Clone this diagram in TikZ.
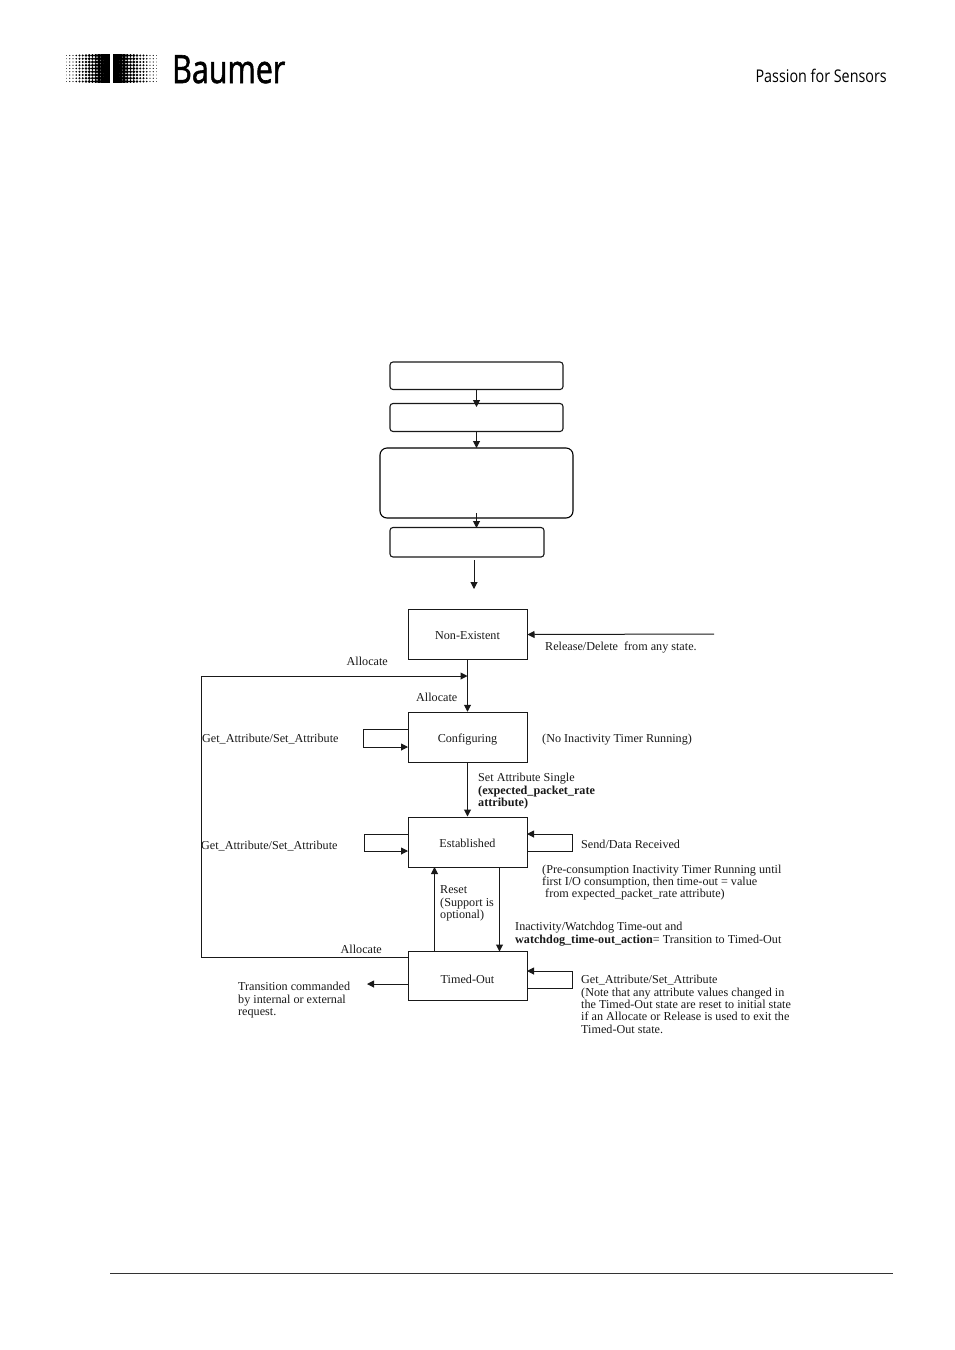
\documentclass[tikz,border=0pt]{standalone}
\usepackage{fontspec}
\setmainfont{Liberation Serif}
\newfontfamily\logofont{Open Sans}
\newfontfamily\logobold[FakeBold=1.6]{Open Sans}
\usetikzlibrary{arrows.meta}
\tikzset{
 x=1pt,y=-1pt,
 startbox/.style={draw=black!90,line width=1.1pt,rounded corners=3pt},
 bigbox/.style={draw=black,line width=1.1pt,rounded corners=7pt},
 statebox/.style={draw=black!90,line width=1pt,minimum width=119pt,inner sep=0pt,font=\fontsize{12.15}{12.5}\selectfont,text=black!90},
 flow/.style={draw=black!90,line width=1pt,-{Triangle[length=7pt,width=7pt]}},
 lab/.style={anchor=north west,inner sep=0pt,align=left,font=\fontsize{12.15}{12.4}\selectfont,text=black!90},
}
\newcommand{\stt}[2][-5pt]{\raisebox{#1}[0pt][0pt]{#2}}
\begin{document}
\begin{tikzpicture}
\useasboundingbox (0,0) rectangle (954,1350);
\fill[white] (0,0) rectangle (954,1350);
% logo halftone
\fill[black] (105,54) rectangle (110,83);
\fill[black] (113,54) rectangle (118,83);
\foreach \ix in {0,...,13}{
 \foreach \iy in {0,...,8}{
  \pgfmathsetmacro{\rr}{0.4+0.16*\ix}
  \fill[black] ({66.5+3.25*\ix},{55.5+3.25*\iy}) circle (\rr pt);
  \fill[black] ({156.5-3.25*\ix},{55.5+3.25*\iy}) circle (\rr pt);
 }
}
\fill[white] (110,50) rectangle (113,88);
\fill[white] (85,50) rectangle (140,54);
\fill[white] (85,83) rectangle (140,88);
\node[anchor=base west,inner sep=0pt,font=\logobold\fontsize{39}{39}\selectfont] (brand) at (172,83) {\scalebox{0.78}[1]{Baumer}};
\node[anchor=base east,inner sep=0pt,font=\logofont\fontsize{17.5}{18}\selectfont] (claim) at (887,82) {\scalebox{0.82}[1]{Passion for Sensors}};
\draw[black!80,line width=0.6pt] (110,1273.5) coordinate (fl) -- (893,1273.5) coordinate (fr);
% start boxes
\draw[startbox] (390,362) rectangle (563,389.5);
\coordinate (b1s) at (476.5,389.5); \coordinate (b1t) at (476.5,407);
\draw[startbox] (390,403.5) rectangle (563,431.5);
\coordinate (b2s) at (476.5,431.5); \coordinate (b2t) at (476.5,448);
\draw[bigbox] (380,448) rectangle (573,518);
\coordinate (b3s) at (476.5,513); \coordinate (b3t) at (476.5,528);
\draw[startbox] (390,527.5) rectangle (544,557);
\coordinate (b4s) at (474,560); \coordinate (b4t) at (474,589);
\draw[flow] (b1s) -- (b1t);
\draw[flow] (b2s) -- (b2t);
\draw[flow] (b3s) -- (b3t);
\draw[flow] (b4s) -- (b4t);
% states
\node[statebox,minimum height=49.5pt] (ne) at (467.5,634.5) {\stt{Non-Existent}};
\node[statebox,minimum height=50.5pt] (cf) at (467.5,737.5) {\stt{Configuring}};
\node[statebox,minimum height=50pt] (es) at (467.5,842) {\stt{Established}};
\node[statebox,minimum height=49pt] (to) at (467.5,976) {\stt[-7pt]{Timed-Out}};
\draw[flow] (ne.south) -- (cf.north);
\draw[flow] (cf.south) -- (es.north);
\draw[flow] (434.5,951.5) coordinate (rs) -- (434.5,867) coordinate (rt);
\draw[flow] (499.5,867) coordinate (ds) -- (499.5,951.5) coordinate (dt);
\coordinate (merge) at (467.5,676);
\draw[flow] (408,957) coordinate (al) -- (201,957) -- (201,676) -- (merge);
\draw[flow] (408,729) -- (363,729) -- (363,747) -- (408,747);
\draw[flow] (408,834) -- (364,834) -- (364,851) -- (408,851);
\draw[flow] (527,851) -- (572,851) -- (572,834) -- (527,834);
\draw[flow] (527,988) -- (572,988) -- (572,971) -- (527,971);
\draw[flow] (408,984) -- (367,984);
\draw[flow] (714,634) coordinate (rel) -- (ne.east);
% labels
\node[lab] (t1) at (346.5,657) {Allocate};
\node[lab] (t2) at (416,693) {Allocate};
\node[lab] (t3) at (545,642) {Release/Delete\ \ from any state.};
\node[lab] (t4) at (202,734) {Get\_Attribute/Set\_Attribute};
\node[lab] (t5) at (542,734) {(No Inactivity Timer Running)};
\node[lab] (t6) at (478,773) {Set Attribute Single\\\textbf{(expected\_packet\_rate}\\\textbf{attribute)}};
\node[lab] (t7) at (201,841) {Get\_Attribute/Set\_Attribute};
\node[lab] (t8) at (581,840) {Send/Data Received};
\node[lab] (t9) at (542,864.5) {(Pre-consumption Inactivity Timer Running until\\first I/O consumption, then time-out = value\\\ from expected\_packet\_rate attribute)};
\node[lab] (t10) at (440,885.5) {Reset\\(Support is\\optional)};
\node[lab] (t11) at (515,922) {Inactivity/Watchdog Time-out and\\\textbf{watchdog\_time-out\_action}= Transition to Timed-Out};
\node[lab] (t12) at (340.5,945) {Allocate};
\node[lab] (t13) at (238,982) {Transition commanded\\by internal or external\\request.};
\node[lab] (t14) at (581,975) {Get\_Attribute/Set\_Attribute\\(Note that any attribute values changed in\\the Timed-Out state are reset to initial state\\if an Allocate or Release is used to exit the\\Timed-Out state.};
\end{tikzpicture}
\end{document}
